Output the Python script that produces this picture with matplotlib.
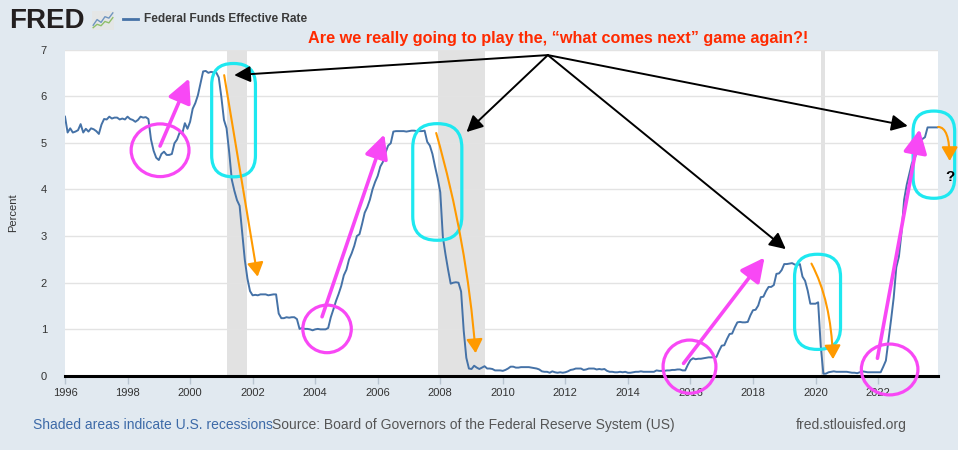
import numpy as np
import matplotlib
matplotlib.use("Agg")
import matplotlib.pyplot as plt
from matplotlib.patches import Ellipse, FancyBboxPatch, FancyArrowPatch

plt.rcParams['font.family'] = ['Liberation Sans', 'DejaVu Sans']

# ---------------- data (monthly Federal Funds Effective Rate, %) ----------------
years = list(range(1996, 2024))
rates = {
    1996: [5.56, 5.22, 5.31, 5.22, 5.24, 5.27, 5.40, 5.22, 5.30, 5.24, 5.31, 5.29],
    1997: [5.25, 5.19, 5.39, 5.51, 5.50, 5.56, 5.52, 5.54, 5.54, 5.50, 5.52, 5.50],
    1998: [5.56, 5.51, 5.49, 5.45, 5.49, 5.56, 5.54, 5.55, 5.51, 5.07, 4.83, 4.68],
    1999: [4.63, 4.76, 4.81, 4.74, 4.74, 4.76, 4.99, 5.07, 5.22, 5.20, 5.42, 5.30],
    2000: [5.45, 5.73, 5.85, 6.02, 6.27, 6.53, 6.54, 6.50, 6.52, 6.51, 6.51, 6.40],
    2001: [5.98, 5.49, 5.31, 4.80, 4.21, 3.97, 3.77, 3.65, 3.07, 2.49, 2.09, 1.82],
    2002: [1.73, 1.74, 1.73, 1.75, 1.75, 1.75, 1.73, 1.74, 1.75, 1.75, 1.34, 1.24],
    2003: [1.24, 1.26, 1.25, 1.26, 1.26, 1.22, 1.01, 1.03, 1.01, 1.01, 1.00, 0.98],
    2004: [1.00, 1.01, 1.00, 1.00, 1.00, 1.03, 1.26, 1.43, 1.61, 1.76, 1.93, 2.16],
    2005: [2.28, 2.50, 2.63, 2.79, 3.00, 3.04, 3.26, 3.50, 3.62, 3.78, 4.00, 4.16],
    2006: [4.29, 4.49, 4.59, 4.79, 4.94, 4.99, 5.24, 5.25, 5.25, 5.25, 5.25, 5.24],
    2007: [5.25, 5.26, 5.26, 5.25, 5.25, 5.25, 5.26, 5.02, 4.94, 4.76, 4.49, 4.24],
    2008: [3.94, 2.98, 2.61, 2.28, 1.98, 2.00, 2.01, 2.00, 1.81, 0.97, 0.39, 0.16],
    2009: [0.15, 0.22, 0.18, 0.15, 0.18, 0.21, 0.16, 0.16, 0.15, 0.12, 0.12, 0.12],
    2010: [0.11, 0.13, 0.16, 0.20, 0.20, 0.18, 0.18, 0.19, 0.19, 0.19, 0.19, 0.18],
    2011: [0.17, 0.16, 0.14, 0.10, 0.09, 0.09, 0.07, 0.10, 0.08, 0.07, 0.08, 0.07],
    2012: [0.08, 0.10, 0.13, 0.14, 0.16, 0.16, 0.16, 0.13, 0.14, 0.16, 0.16, 0.16],
    2013: [0.14, 0.15, 0.14, 0.15, 0.11, 0.09, 0.09, 0.08, 0.08, 0.09, 0.08, 0.09],
    2014: [0.07, 0.07, 0.08, 0.09, 0.09, 0.10, 0.09, 0.09, 0.09, 0.09, 0.09, 0.12],
    2015: [0.11, 0.11, 0.11, 0.12, 0.12, 0.13, 0.13, 0.14, 0.14, 0.12, 0.12, 0.24],
    2016: [0.34, 0.38, 0.36, 0.37, 0.37, 0.38, 0.39, 0.40, 0.40, 0.40, 0.41, 0.54],
    2017: [0.65, 0.66, 0.79, 0.90, 0.91, 1.04, 1.15, 1.16, 1.15, 1.15, 1.16, 1.30],
    2018: [1.41, 1.42, 1.51, 1.69, 1.70, 1.82, 1.91, 1.91, 1.95, 2.19, 2.20, 2.27],
    2019: [2.40, 2.40, 2.41, 2.42, 2.39, 2.38, 2.40, 2.13, 2.04, 1.83, 1.55, 1.55],
    2020: [1.55, 1.58, 0.65, 0.05, 0.05, 0.08, 0.09, 0.10, 0.09, 0.09, 0.09, 0.09],
    2021: [0.09, 0.08, 0.07, 0.07, 0.06, 0.08, 0.10, 0.09, 0.08, 0.08, 0.08, 0.08],
    2022: [0.08, 0.08, 0.20, 0.33, 0.77, 1.21, 1.68, 2.33, 2.56, 3.08, 3.78, 4.10],
    2023: [4.33, 4.57, 4.65, 4.83, 5.06, 5.08, 5.12, 5.33, 5.33, 5.33, 5.33, 5.33],
}
recession_starts = [2001.17, 2007.92, 2020.17]
recession_ends = [2001.83, 2009.42, 2020.30]
xtick_years = list(range(1996, 2023, 2))
ytick_values = [0, 1, 2, 3, 4, 5, 6, 7]

x = np.array([y + m / 12 for y in years for m in range(12)])
v = np.array([val for y in years for val in rates[y]])

# ---------------- figure ----------------
BG = '#e1e9f0'
fig = plt.figure(figsize=(9.58, 4.5), dpi=100, facecolor=BG)
ax = fig.add_axes([65 / 958, 1 - 376 / 450, (938 - 65) / 958, (376 - 49.5) / 450])
ax.set_facecolor('white')

for s, e in zip(recession_starts, recession_ends):
    ax.axvspan(s, e, color='#e2e2e2', lw=0, zorder=0)

ax.plot(x, v, color='#4572A7', lw=1.4, zorder=3)

ax.set_xlim(1996, x[-1])
ax.set_ylim(0, 7)
ax.set_xticks(xtick_years)
ax.set_yticks(ytick_values)
ax.grid(axis='y', color='#e3e3e3', lw=1)
ax.set_axisbelow(True)
for sp in ['top', 'right', 'left']:
    ax.spines[sp].set_visible(False)
ax.spines['bottom'].set_color('black')
ax.spines['bottom'].set_linewidth(2.2)
ax.spines['bottom'].set_zorder(6)
ax.tick_params(axis='y', length=0, pad=13, labelsize=8, labelcolor='#333333')
ax.tick_params(axis='x', length=6, width=1, color='#b8c4d0', pad=2.5, labelsize=8, labelcolor='#333333')
ax.set_ylabel('Percent', fontsize=8, color='#333333')
ax.yaxis.set_label_coords(-0.054, 0.5)

# ---------------- annotations ----------------
MAG = '#f848f5'
CYAN = '#1ee8f0'
ORANGE = '#ff9a00'

# magenta circles
for (cx, cy, w, h) in [(1999.04, 4.84, 1.85, 1.13), (2004.38, 1.01, 1.55, 1.02),
                       (2015.97, 0.20, 1.69, 1.14), (2022.37, 0.14, 1.81, 1.09)]:
    ax.add_patch(Ellipse((cx, cy), w, h, fill=False, ec=MAG, lw=2.3, clip_on=False, zorder=7))

# cyan rounded boxes
aspect = 31.25 / 46.67
for (x0, x1, y0, y1) in [(2000.69, 2002.09, 4.27, 6.70), (2007.12, 2008.69, 2.91, 5.41),
                         (2019.33, 2020.80, 0.57, 2.61), (2023.12, 2024.45, 3.81, 5.68)]:
    r = (x1 - x0) / 2 * 0.98
    ax.add_patch(FancyBboxPatch((x0, y0), x1 - x0, y1 - y0,
                                boxstyle=f'round,pad=0,rounding_size={r}',
                                mutation_aspect=aspect, fill=False, ec=CYAN, lw=2.3,
                                clip_on=False, zorder=7))

# magenta arrows
for (t, h) in [((1999.04, 4.93), (1999.97, 6.38)), ((2004.22, 1.27), (2006.21, 5.18)),
               ((2015.78, 0.27), (2018.37, 2.54)), ((2021.98, 0.38), (2023.33, 5.29))]:
    ax.add_patch(FancyArrowPatch(t, h, arrowstyle='-|>,head_length=9,head_width=4.5',
                                 color=MAG, lw=2.6, clip_on=False, zorder=8,
                                 shrinkA=0, shrinkB=0, mutation_scale=1.6))

# orange arrows
for (t, h, conn) in [((2001.09, 6.45), (2002.16, 2.13), 'arc3,rad=0'),
                     ((2007.87, 5.21), (2009.13, 0.49), 'arc3,rad=-0.05'),
                     ((2019.87, 2.41), (2020.56, 0.36), 'angle3,angleA=-62,angleB=92'),
                     ((2023.92, 5.34), (2024.29, 4.61), 'angle3,angleA=0,angleB=90')]:
    ax.add_patch(FancyArrowPatch(t, h, arrowstyle='-|>,head_length=6,head_width=3.5',
                                 connectionstyle=conn,
                                 color=ORANGE, lw=1.5, clip_on=False, zorder=8,
                                 shrinkA=0, shrinkB=0, mutation_scale=1.4))

# black arrows
origin = (2011.44, 6.88)
for h in [(2001.41, 6.45), (2008.84, 5.23), (2019.05, 2.72), (2022.95, 5.36)]:
    ax.add_patch(FancyArrowPatch(origin, h, arrowstyle='-|>,head_length=7,head_width=3.5',
                                 color='black', lw=1.4, clip_on=False, zorder=9,
                                 shrinkA=0, shrinkB=0, mutation_scale=1.4))

ax.text(2024.29, 4.26, '?', fontsize=11, fontweight='bold', ha='center', va='center',
        clip_on=False, zorder=9)

fig.text(558 / 958, 1 - 39 / 450, 'Are we really going to play the, \u201cwhat comes next\u201d game again?!',
         color='#ff2a00', fontsize=11.7, fontweight='bold', ha='center', va='center')

# ---------------- header: FRED logo + legend ----------------
fig.text(9 / 958, 1 - 20.5 / 450, 'FRED', fontsize=20, fontweight='bold', color='#231f20',
         ha='left', va='center')
icon = fig.add_axes([92 / 958, 1 - 30 / 450, 22 / 958, 19 / 450])
icon.set_facecolor('#e4e6e6')
icon.plot([0, 1, 2, 3, 4, 5], [1, 2.2, 1.6, 2.8, 2.5, 3.6], color='#6f95c0', lw=1)
icon.plot([0, 1, 2, 3, 4, 5], [0.5, 1.2, 0.9, 1.8, 1.5, 2.6], color='#8fbf6a', lw=1)
icon.set_xlim(-0.3, 5.3)
icon.set_ylim(0, 4)
icon.set_xticks([])
icon.set_yticks([])
for sp in icon.spines.values():
    sp.set_visible(False)

fig.add_artist(plt.Line2D([123 / 958, 138 / 958], [1 - 19 / 450, 1 - 19 / 450],
                          color='#4572A7', lw=2))
fig.text(144 / 958, 1 - 19 / 450, 'Federal Funds Effective Rate', fontsize=8.6, fontweight='bold',
         color='#3a3a3a', ha='left', va='center')

# ---------------- footer ----------------
fig.text(33 / 958, 1 - 425 / 450, 'Shaded areas indicate U.S. recessions', fontsize=10,
         color='#3d6aa8', ha='left', va='center')
fig.text(272 / 958, 1 - 425 / 450, 'Source: Board of Governors of the Federal Reserve System (US)',
         fontsize=10, color='#555555', ha='left', va='center')
fig.text(907 / 958, 1 - 425 / 450, 'fred.stlouisfed.org', fontsize=10, color='#555555',
         ha='right', va='center')

fig.savefig('out.png', dpi=100, facecolor=BG)
